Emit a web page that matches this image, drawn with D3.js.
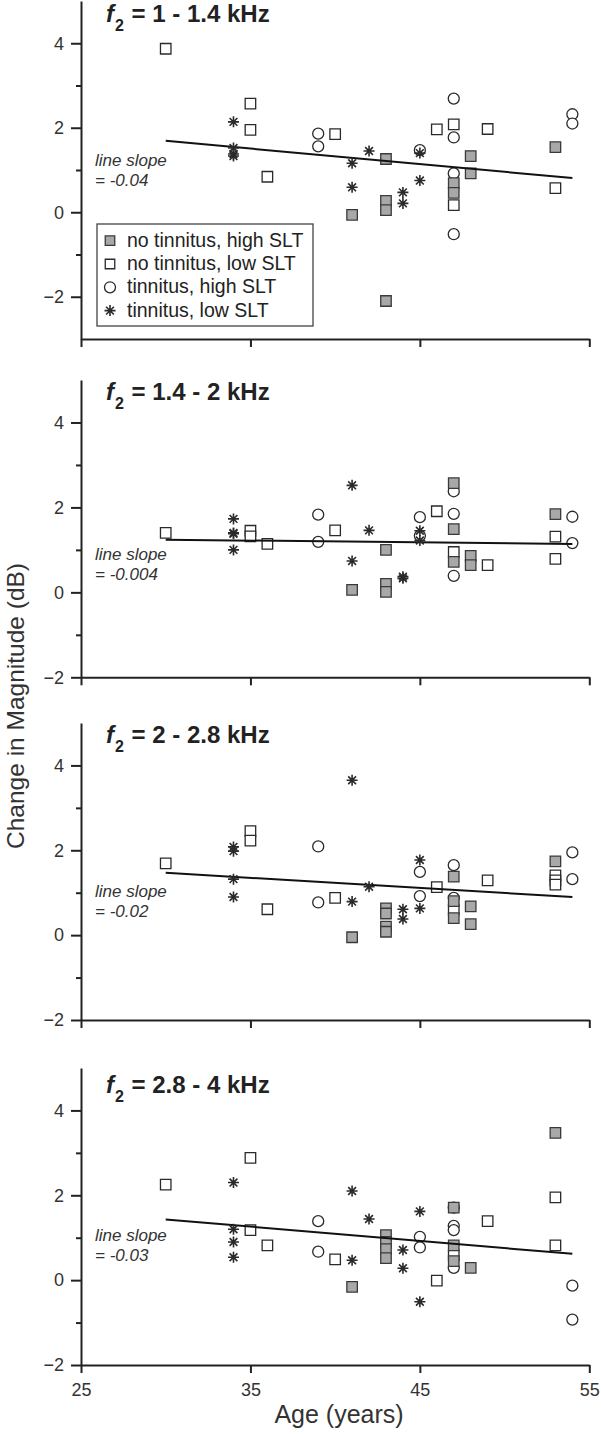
<!DOCTYPE html>
<html><head><meta charset="utf-8">
<script src="https://cdn.jsdelivr.net/npm/d3@7"></script>
<style>
html,body{margin:0;padding:0;background:#fff;}
svg{display:block;font-family:"Liberation Sans",Arial,sans-serif;}
</style></head>
<body><svg id="chart" width="601" height="1434"></svg>
<script>
// ---------- data ----------
const ageTicks = [25, 35, 45, 55];
const yMajorTicks = [-2, 0, 2, 4];
const yMinorTicks = [-1, 1, 3];
const panelRanges = ["1 - 1.4 kHz", "1.4 - 2 kHz", "2 - 2.8 kHz", "2.8 - 4 kHz"];
const slopeLabels = ["= -0.04", "= -0.004", "= -0.02", "= -0.03"];
const yMinValues = [-3, -2, -2, -2];
const yMaxValue = 5;
const fitAges = [30, 54];
const fitStartValues = [1.69, 1.24, 1.47, 1.43];
const fitEndValues = [0.81, 1.14, 0.90, 0.62];
const legendLabels = ["no tinnitus, high SLT", "no tinnitus, low SLT", "tinnitus, high SLT", "tinnitus, low SLT"];

// panel 1: f2 = 1 - 1.4 kHz
const p1NoTinHigh = [[41,-0.06],[43,1.26],[43,0.27],[43,0.05],[43,-2.1],[47,0.69],[47,0.46],[48,1.33],[48,0.92],[53,1.54]];
const p1NoTinLow  = [[30,3.87],[35,2.57],[35,1.95],[36,0.84],[40,1.85],[46,1.96],[47,2.08],[47,0.17],[49,1.97],[53,0.57]];
const p1TinHigh   = [[39,1.86],[39,1.56],[45,1.47],[47,2.69],[47,1.77],[47,0.92],[47,-0.52],[54,2.32],[54,2.10]];
const p1TinLow    = [[34,2.14],[34,1.52],[34,1.38],[34,1.33],[41,1.16],[41,0.59],[42,1.45],[44,0.47],[44,0.21],[45,1.40],[45,0.75]];
// panel 2: f2 = 1.4 - 2 kHz
const p2NoTinHigh = [[41,0.06],[43,1.00],[43,0.20],[43,0.01],[47,2.57],[47,1.49],[47,0.72],[48,0.86],[48,0.64],[53,1.84]];
const p2NoTinLow  = [[30,1.40],[35,1.45],[35,1.32],[36,1.14],[40,1.46],[46,1.91],[47,0.95],[49,0.64],[53,1.31],[53,0.79]];
const p2TinHigh   = [[39,1.83],[39,1.19],[45,1.77],[45,1.33],[47,2.38],[47,1.85],[47,0.39],[54,1.78],[54,1.16]];
const p2TinLow    = [[34,1.73],[34,1.40],[34,1.38],[34,1.00],[41,2.52],[41,0.74],[42,1.46],[44,0.37],[44,0.33],[45,1.45],[45,1.22]];
// panel 3: f2 = 2 - 2.8 kHz
const p3NoTinHigh = [[41,-0.05],[43,0.63],[43,0.51],[43,0.20],[43,0.08],[47,1.38],[47,0.80],[47,0.40],[48,0.68],[48,0.26],[53,1.74]];
const p3NoTinLow  = [[30,1.69],[35,2.45],[35,2.23],[36,0.61],[40,0.88],[46,1.13],[47,0.60],[49,1.29],[53,1.41],[53,1.29],[53,1.19]];
const p3TinHigh   = [[39,2.09],[39,0.77],[45,1.49],[45,0.92],[47,1.65],[47,0.88],[54,1.95],[54,1.32]];
const p3TinLow    = [[34,2.08],[34,1.98],[34,1.32],[34,0.90],[41,3.65],[41,0.79],[42,1.14],[44,0.61],[44,0.38],[45,1.77],[45,0.63]];
// panel 4: f2 = 2.8 - 4 kHz
const p4NoTinHigh = [[41,-0.16],[43,1.06],[43,0.90],[43,0.73],[43,0.52],[47,1.71],[47,0.82],[47,0.45],[48,0.29],[53,3.47]];
const p4NoTinLow  = [[30,2.25],[35,2.88],[35,1.18],[36,0.82],[40,0.49],[46,-0.01],[47,0.59],[49,1.39],[53,1.95],[53,0.82]];
const p4TinHigh   = [[39,1.39],[39,0.67],[45,1.02],[45,0.77],[47,1.71],[47,1.28],[47,1.18],[47,0.29],[54,-0.13],[54,-0.93]];
const p4TinLow    = [[34,2.30],[34,1.20],[34,0.90],[34,0.54],[41,2.10],[41,0.47],[42,1.44],[44,0.71],[44,0.28],[45,1.62],[45,-0.51]];

const panelSeries = [
  {noTinHigh: p1NoTinHigh, noTinLow: p1NoTinLow, tinHigh: p1TinHigh, tinLow: p1TinLow},
  {noTinHigh: p2NoTinHigh, noTinLow: p2NoTinLow, tinHigh: p2TinHigh, tinLow: p2TinLow},
  {noTinHigh: p3NoTinHigh, noTinLow: p3NoTinLow, tinHigh: p3TinHigh, tinLow: p3TinLow},
  {noTinHigh: p4NoTinHigh, noTinLow: p4NoTinLow, tinHigh: p4TinHigh, tinLow: p4TinLow}
];

// ---------- layout ----------
const plotLeft = 81, plotRight = 589.3;
const panelTop = [1, 380, 723, 1068];
const panelBottom = [339, 677.3, 1020, 1365];
const titleBaseline = [22, 400, 743, 1093];
const slopeLabelValue = [1.1, 0.77, 0.89, 0.92];
const axisColor = "#222", markColor = "#2a2a2a", fillGray = "#a8a8a8";

const svg = d3.select("#chart");
const x = d3.scaleLinear().domain([25, 55]).range([plotLeft, plotRight]);

const starType = {
  draw(ctx, size) {
    const r = Math.sqrt(size) / 2;
    for (let k = 0; k < 4; k++) {
      const a = k * Math.PI / 4;
      ctx.moveTo(-r * Math.cos(a), -r * Math.sin(a));
      ctx.lineTo(r * Math.cos(a), r * Math.sin(a));
    }
  }
};
const symSquare = d3.symbol().type(d3.symbolSquare).size(10.5 * 10.5);
const symSquareLeg = d3.symbol().type(d3.symbolSquare).size(9.5 * 9.5);
const symCircle = d3.symbol().type(d3.symbolCircle).size(Math.PI * 5.5 * 5.5);
const symStar = d3.symbol().type(starType).size(11 * 11);

function drawMarks(g, kind, data, xs, ys, legend) {
  const sel = g.selectAll(null).data(data).enter().append("path")
    .attr("transform", d => `translate(${xs(d[0])},${ys(d[1])})`);
  if (kind === "noTinHigh") sel.attr("d", legend ? symSquareLeg : symSquare).attr("fill", fillGray).attr("stroke", "#3a3a3a").attr("stroke-width", 1.3);
  if (kind === "noTinLow") sel.attr("d", legend ? symSquareLeg : symSquare).attr("fill", "#fff").attr("stroke", markColor).attr("stroke-width", 1.3);
  if (kind === "tinHigh") sel.attr("d", symCircle).attr("fill", "#fff").attr("stroke", markColor).attr("stroke-width", 1.3);
  if (kind === "tinLow") sel.attr("d", symStar).attr("fill", "none").attr("stroke", markColor).attr("stroke-width", 1.6);
}

panelSeries.forEach((series, i) => {
  const y = d3.scaleLinear().domain([yMinValues[i], yMaxValue]).range([panelBottom[i], panelTop[i]]);
  const g = svg.append("g");

  const line = d3.line().x(d => x(d[0])).y(d => y(d[1]));
  const fitPts = [[fitAges[0], fitStartValues[i]], [fitAges[1], fitEndValues[i]]];

  drawMarks(g, "tinHigh", series.tinHigh, x, y);
  drawMarks(g, "noTinLow", series.noTinLow, x, y);
  drawMarks(g, "noTinHigh", series.noTinHigh, x, y);
  g.append("path").datum(fitPts).attr("d", line).attr("fill", "none").attr("stroke", "#111").attr("stroke-width", 2);
  drawMarks(g, "tinLow", series.tinLow, x, y);

  // y axis
  const yAxis = g.append("g").attr("transform", `translate(${plotLeft},0)`)
    .call(d3.axisLeft(y).tickValues(yMajorTicks).tickSize(10).tickSizeOuter(0).tickPadding(7).tickFormat(d3.format("d")));
  yAxis.select(".domain").attr("stroke", axisColor).attr("stroke-width", 2);
  yAxis.selectAll(".tick line").attr("stroke", axisColor).attr("stroke-width", 2);
  yAxis.selectAll(".tick text").attr("font-size", 18).attr("fill", "#333").attr("font-family", "Liberation Sans, Arial, sans-serif");
  const yMinor = g.append("g").attr("transform", `translate(${plotLeft},0)`)
    .call(d3.axisLeft(y).tickValues(yMinorTicks).tickSize(5).tickSizeOuter(0).tickFormat(""));
  yMinor.select(".domain").remove();
  yMinor.selectAll(".tick line").attr("stroke", axisColor).attr("stroke-width", 2);

  // x axis
  const xAxis = g.append("g").attr("transform", `translate(0,${panelBottom[i]})`)
    .call(d3.axisBottom(x).tickValues(ageTicks).tickSize(8).tickSizeOuter(0).tickPadding(10).tickFormat(i === 3 ? d3.format("d") : ""));
  xAxis.select(".domain").attr("stroke", axisColor).attr("stroke-width", 2);
  xAxis.selectAll(".tick line").attr("stroke", axisColor).attr("stroke-width", 2);
  xAxis.selectAll(".tick text").attr("font-size", 18).attr("fill", "#333").attr("font-family", "Liberation Sans, Arial, sans-serif");

  // title
  const t = g.append("text").attr("x", 106).attr("y", titleBaseline[i]).attr("font-size", 24).attr("font-weight", "bold").attr("fill", "#222");
  t.append("tspan").attr("font-style", "italic").text("f");
  t.append("tspan").attr("font-size", 16).attr("dy", 9).attr("dx", 1).text("2");
  t.append("tspan").attr("dy", -9).attr("dx", 1).text(" = " + panelRanges[i]);

  // slope label
  const sy = y(slopeLabelValue[i]);
  g.append("text").attr("x", 95).attr("y", sy).attr("font-size", 17).attr("font-style", "italic").attr("fill", "#333").text("line slope");
  g.append("text").attr("x", 95).attr("y", sy + 20).attr("font-size", 17).attr("font-style", "italic").attr("fill", "#333").text(slopeLabels[i]);

  // legend (panel 1 only)
  if (i === 0) {
    const lg = g.append("g");
    lg.append("rect").attr("x", 97).attr("y", 224).attr("width", 216).attr("height", 102)
      .attr("fill", "#fff").attr("stroke", "#444").attr("stroke-width", 1.3);
    const kinds = ["noTinHigh", "noTinLow", "tinHigh", "tinLow"];
    kinds.forEach((k, j) => {
      const cy = 240.7 + j * 23.3;
      drawMarks(lg, k, [[0, 0]], () => 110, () => cy, true);
      lg.append("text").attr("x", 127).attr("y", cy + 6).attr("font-size", 19.5).attr("fill", "#222").text(legendLabels[j]);
    });
  }
});

// axis titles
svg.append("text").attr("transform", "translate(24,706) rotate(-90)").attr("text-anchor", "middle")
  .attr("font-size", 24.5).attr("fill", "#333").text("Change in Magnitude (dB)");
svg.append("text").attr("x", 339).attr("y", 1423).attr("text-anchor", "middle")
  .attr("font-size", 25).attr("fill", "#333").text("Age (years)");
</script></body></html>
